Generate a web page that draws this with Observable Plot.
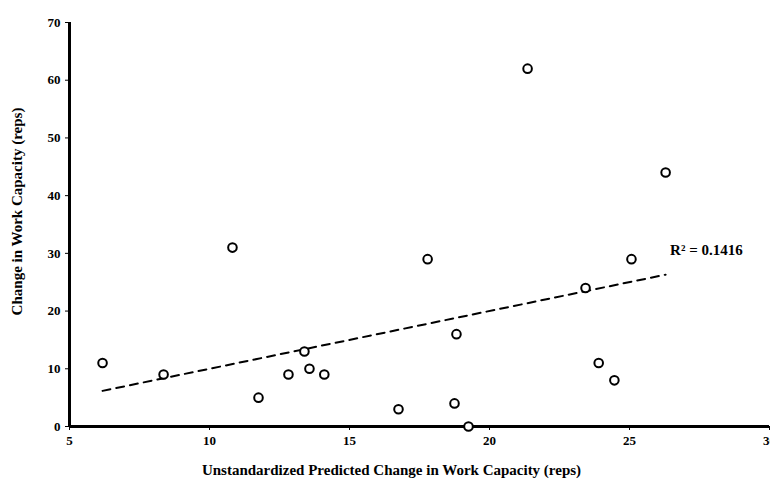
<!DOCTYPE html>
<html>
<head>
<meta charset="utf-8">
<script src="https://cdn.jsdelivr.net/npm/d3@7"></script>
<script src="https://cdn.jsdelivr.net/npm/@observablehq/plot@0.6"></script>
<style>
  html, body { margin: 0; padding: 0; background: white; }
  #chart { width: 770px; height: 480px; overflow: hidden; }
</style>
</head>
<body>
<div id="chart"></div>
<script>
const predicted = [6.18, 8.36, 10.82, 11.75, 12.82, 13.39, 13.57, 14.1, 16.75, 17.79, 18.82, 18.75, 19.25, 21.36, 23.43, 23.9, 24.46, 25.07, 26.29];
const observed  = [11, 9, 31, 5, 9, 13, 10, 9, 3, 29, 16, 4, 0, 62, 24, 11, 8, 29, 44];
const xTicks = [5, 10, 15, 20, 25, 30];
const yTicks = [0, 10, 20, 30, 40, 50, 60, 70];
const xLabel = "Unstandardized Predicted Change in Work Capacity (reps)";
const yLabel = "Change in Work Capacity (reps)";
const r2Label = "R² = 0.1416";
const r2Pos = {x: 26.45, y: 30.6};

const points = predicted.map((x, i) => ({x, y: observed[i]}));

const chart = Plot.plot({
  width: 770,
  height: 480,
  marginLeft: 69,
  marginRight: 1,
  marginTop: 22,
  marginBottom: 54,
  style: {fontFamily: "'Liberation Serif', serif", fontWeight: "bold", fontSize: "13px", color: "#000", background: "white"},
  x: {domain: [5, 30]},
  y: {domain: [0, 70]},
  marks: [
    Plot.axisX({ticks: xTicks, tickSize: 4, tickPadding: 5, tickFormat: d => d, fontSize: 13, fontWeight: "bold", label: null}),
    Plot.axisY({ticks: yTicks, tickSize: 4, tickPadding: 5, tickFormat: d => d, fontSize: 13, fontWeight: "bold", label: null}),
    Plot.text([xLabel], {frameAnchor: "bottom", text: d => d, dx: -28, dy: 44, lineAnchor: "middle", fontSize: 15, fontWeight: "bold", fill: "black"}),
    Plot.text([yLabel], {frameAnchor: "left", text: d => d, rotate: -90, textAnchor: "middle", dx: -52, dy: -13, lineAnchor: "middle", fontSize: 15, fontWeight: "bold", fill: "black"}),
    Plot.ruleX([5], {y1: 0, y2: 70, stroke: "black", strokeWidth: 3}),
    Plot.ruleY([0], {x1: 5, x2: 30, stroke: "black", strokeWidth: 3}),
    Plot.linearRegressionY(points, {x: "x", y: "y", ci: 0, stroke: "black", strokeWidth: 2, strokeDasharray: "8,6"}),
    Plot.dot(points, {x: "x", y: "y", r: 4.3, stroke: "black", strokeWidth: 2, fill: "white"}),
    Plot.text([r2Label], {x: r2Pos.x, y: r2Pos.y, text: d => d, textAnchor: "start", fontSize: 15, fontWeight: "bold", fill: "black"})
  ]
});
document.getElementById("chart").append(chart);
</script>
</body>
</html>
